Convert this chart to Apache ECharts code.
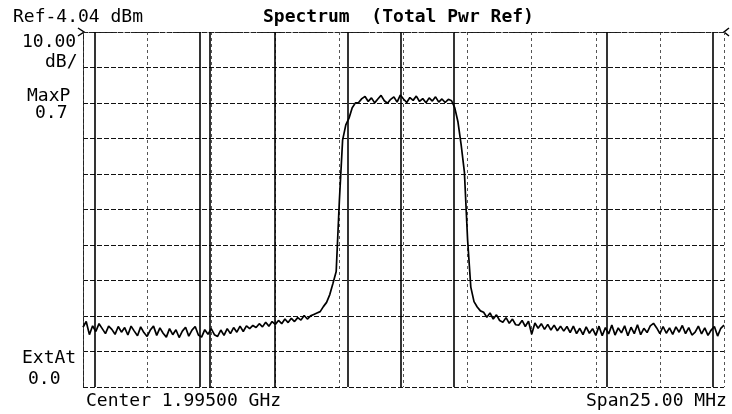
<!DOCTYPE html>
<html>
<head>
<meta charset="utf-8">
<script src="https://cdn.jsdelivr.net/npm/echarts@6/dist/echarts.min.js"></script>
<style>
html,body{margin:0;padding:0;background:#fff;}
#chart{width:732px;height:414px;}
</style>
</head>
<body>
<div id="chart"></div>
<script>
// Sweep settings (MHz)
var freqStart = 1982.5;
var freqStop = 2007.5;
var freqStep = 0.125;
var refLevel = -4.04;          // dBm, top of screen
var dbPerDiv = 10;
// Trace levels in dBm, one per sweep point (201 points)
var levels = [
  -87.2,-85.6,-89.3,-86.8,-88.4,-86.2,-87.6,-89.0,-86.9,-87.8,-89.2,
  -87.0,-88.6,-87.3,-89.4,-86.9,-88.3,-89.6,-87.1,-88.7,-89.8,
  -88.0,-86.9,-89.5,-87.4,-88.9,-90.0,-87.6,-89.3,-87.9,-90.1,
  -88.3,-87.2,-89.7,-88.0,-87.0,-89.4,-90.0,-87.9,-89.2,-87.6,
  -89.3,-89.8,-88.0,-89.5,-87.6,-89.0,-87.3,-88.6,-86.9,-88.4,
  -86.8,-87.6,-86.7,-87.3,-86.2,-87.1,-85.8,-86.9,-85.6,-86.4,
  -85.3,-86.2,-84.9,-85.9,-84.7,-85.6,-84.5,-85.2,-83.9,-84.9,
  -84.0,-83.6,-83.2,-82.8,-81.4,-80.2,-78.0,-74.8,-71.5,-51.4,
  -34.5,-30.2,-28.3,-25.4,-24.0,
  -23.9,-22.8,-22.2,-23.6,-22.6,-24.0,-22.9,-21.9,-23.4,-24.1,
  -23.0,-22.3,-23.8,-21.8,-22.9,-23.9,-22.5,-23.3,-22.1,-23.6,
  -22.8,-24.0,-22.6,-23.5,-22.3,-23.8,-22.9,-23.9,-23.0,-23.4,
  -25.4,-29.4,-35.9,-43.5,-62.6,-75.9,-80.0,-81.5,-82.6,
  -83.0,-84.4,-83.2,-84.9,-83.7,-85.3,-85.8,-84.5,-86.1,-84.9,
  -86.5,-86.6,-85.3,-87.0,-85.5,-89.2,-86.0,-87.5,-86.2,-87.8,
  -86.4,-88.0,-86.6,-88.2,-86.9,-88.3,
  -87.0,-88.7,-86.9,-89.0,-87.5,-89.3,-87.1,-88.9,-87.6,-89.5,
  -86.9,-89.6,-87.3,-89.1,-86.6,-89.4,-87.4,-88.8,-86.8,-89.6,
  -87.2,-89.0,-86.5,-89.3,-87.5,-88.7,-86.8,-86.1,-87.4,-89.0,
  -87.0,-88.9,-87.4,-89.2,-87.1,-88.6,-86.7,-89.0,-87.3,-89.4,
  -88.6,-86.9,-89.1,-87.4,-89.5,-88.0,-87.0,-89.7,-87.5,-86.6
];
// Extra solid vertical lines visible on the screen photo (MHz)
var scanLines = [1982.97, 1987.06, 1987.45, 1989.99, 1992.84, 1994.90, 1996.97, 2002.94, 2007.07];

var traceData = levels.map(function(v, i){ return [freqStart + i*freqStep, v - refLevel]; });

var mono = '"DejaVu Sans Mono", "Liberation Mono", monospace';
var chart = echarts.init(document.getElementById('chart'), null, {renderer:'canvas'});
function txt(x, y, s, opts){
  return {type:'text', left:x, top:y, style:Object.assign({text:s, font:'18px '+mono, fill:'#000'}, opts||{})};
}
chart.setOption({
  animation:false,
  backgroundColor:'#fff',
  grid:{left:83, right:8, top:32, bottom:27},
  xAxis:{
    type:'value', min:freqStart, max:freqStop, interval:2.5,
    axisLine:{show:true, lineStyle:{color:'#222', type:[4,2], width:1}},
    axisTick:{show:false}, axisLabel:{show:false},
    splitLine:{show:true, lineStyle:{color:'#555', type:[3,3], width:1}}
  },
  yAxis:{
    type:'value', min:-dbPerDiv*10, max:0, interval:dbPerDiv,
    axisLine:{show:true, lineStyle:{color:'#222', type:[4,2], width:1}},
    axisTick:{show:false}, axisLabel:{show:false},
    splitLine:{show:true, lineStyle:{color:'#111', type:[5,2], width:1}}
  },
  series:[{
    type:'line', data:traceData, showSymbol:false, symbol:'none',
    lineStyle:{color:'#000', width:1.7},
    markLine:{
      silent:true, symbol:'none', label:{show:false},
      lineStyle:{color:'#000', type:'solid', width:1.6},
      data:scanLines.map(function(f){ return {xAxis:f}; })
    },
    z:3
  }],
  graphic:[
    txt(13, 8, 'Ref-4.04 dBm'),
    txt(263, 8, 'Spectrum  (Total Pwr Ref)', {font:'bold 18px '+mono}),
    txt(22, 33, '10.00'),
    txt(45, 53, 'dB/'),
    txt(27, 87, 'MaxP'),
    txt(35, 104, '0.7'),
    txt(22, 349, 'ExtAt'),
    txt(28, 370, '0.0'),
    txt(86, 392, 'Center 1.99500 GHz'),
    txt(586, 392, 'Span25.00 MHz'),
    {type:'polyline', shape:{points:[[78,28],[84,32],[78,36]]}, style:{stroke:'#000', fill:null, lineWidth:1.5}},
    {type:'polyline', shape:{points:[[729,28],[724,32],[729,36]]}, style:{stroke:'#000', fill:null, lineWidth:1.5}}
  ]
});
</script>
</body>
</html>
